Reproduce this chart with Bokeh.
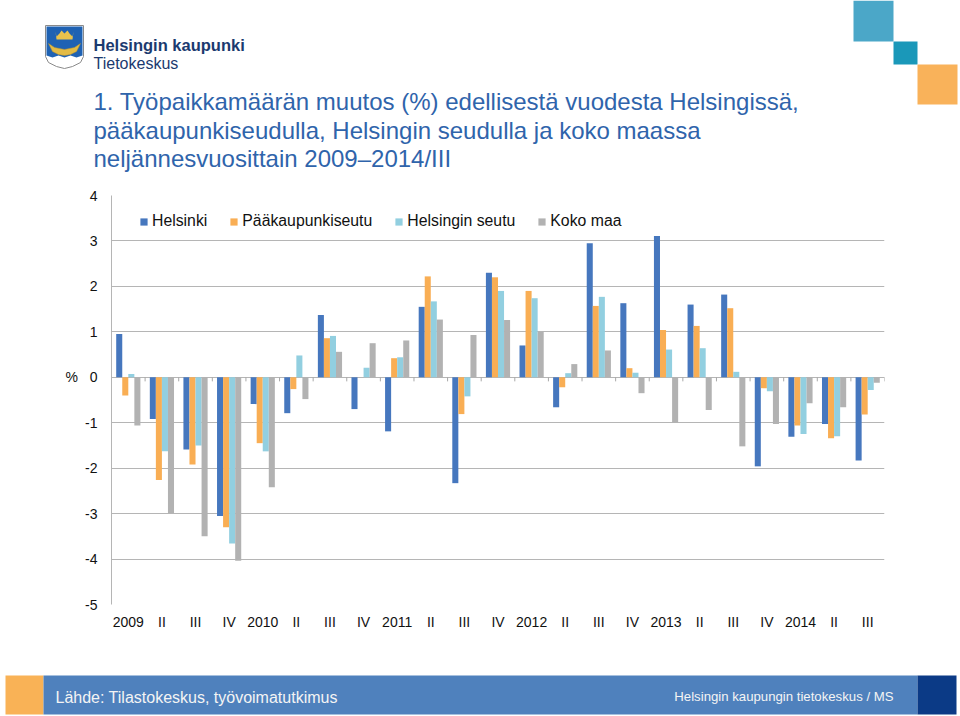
from bokeh.plotting import figure
from bokeh.models import (Range1d, FixedTicker, LinearAxis, Legend, LegendItem,
                          ColumnDataSource, Grid, Plot)
from bokeh.layouts import column
from bokeh.transform import dodge
from bokeh.core.properties import value
from bokeh.embed import file_html
from bokeh.resources import INLINE

# ---------------- data ----------------
quarters = ["2009", "II", "III", "IV", "2010", "II", "III", "IV",
            "2011", "II", "III", "IV", "2012", "II", "III", "IV",
            "2013", "II", "III", "IV", "2014", "II", "III"]
helsinki = [0.95, -0.92, -1.59, -3.05, -0.59, -0.79, 1.37, -0.70,
            -1.19, 1.55, -2.33, 2.30, 0.70, -0.66, 2.95, 1.63,
            3.11, 1.60, 1.82, -1.96, -1.31, -1.03, -1.83]
paakaupunkiseutu = [-0.40, -2.26, -1.92, -3.30, -1.45, -0.26, 0.86, 0.00,
                    0.42, 2.22, -0.81, 2.20, 1.90, -0.22, 1.57, 0.20,
                    1.04, 1.13, 1.52, -0.24, -1.06, -1.34, -0.82]
helsingin_seutu = [0.07, -1.63, -1.50, -3.66, -1.63, 0.48, 0.91, 0.21,
                   0.44, 1.67, -0.42, 1.90, 1.74, 0.09, 1.77, 0.10,
                   0.61, 0.64, 0.12, -0.31, -1.25, -1.30, -0.28]
koko_maa = [-1.06, -2.99, -3.50, -4.04, -2.42, -0.48, 0.56, 0.75,
            0.81, 1.27, 0.93, 1.26, 1.00, 0.29, 0.59, -0.35,
            -1.00, -0.72, -1.52, -1.03, -0.57, -0.66, -0.12]
series_names = ["Helsinki", "Pääkaupunkiseutu", "Helsingin seutu", "Koko maa"]
y_ticks = [-5, -4, -3, -2, -1, 0, 1, 2, 3, 4]

title_lines = ["1. Työpaikkamäärän muutos (%) edellisestä vuodesta Helsingissä,",
               "pääkaupunkiseudulla, Helsingin seudulla ja koko maassa",
               "neljännesvuosittain 2009\u20132014/III"]
source_text = "Lähde: Tilastokeskus, työvoimatutkimus"
credit_text = "Helsingin kaupungin tietokeskus / MS"

# ---------------- style ----------------
FONT = "Liberation Sans"
COLORS = ["#4677be", "#f9ae54", "#92cfe0", "#b2b2b2"]
GRID = "#b5b5b5"
W = 960
H1, H2, H3 = 180, 480, 56
HAS_FRAME_ALIGN = "frame_align" in Plot.properties()


def no_align(f):
    if HAS_FRAME_ALIGN:
        f.frame_align = False
    return f


def blank(h):
    f = figure(width=W, height=h, x_range=Range1d(0, W), y_range=Range1d(h, 0),
               output_backend="svg", toolbar_location=None,
               x_axis_type=None, y_axis_type=None,
               min_border_left=0, min_border_right=0,
               min_border_top=0, min_border_bottom=0,
               outline_line_color=None)
    f.border_fill_color = "white"
    f.background_fill_color = "white"
    return no_align(f)


# ---------------- header ----------------
hd = blank(H1)
# coat of arms (simplified)
hd.patch(x=[45, 83, 83, 80, 72, 64, 56, 48, 45],
         y=[25, 25, 56, 62, 66, 68, 66, 62, 56],
         fill_color="white", line_color="#8a8a8a", line_width=1)
hd.patch(x=[46, 82, 82, 76, 70, 64, 58, 52, 46],
         y=[26, 26, 55, 57, 55, 57, 55, 57, 55],
         fill_color="#1f62b3", line_color=None)
hd.patch(x=[55, 56, 59, 61, 64, 67, 69, 72, 73, 72, 56],
         y=[31, 36, 33, 30, 33, 30, 33, 36, 31, 39, 39],
         fill_color="#e9c24c", line_color=None)
hd.patch(x=[48, 54, 64, 74, 80, 76, 70, 64, 58, 52],
         y=[43, 47, 49, 47, 43, 51, 54, 55, 54, 51],
         fill_color="#e3bb45", line_color="#b8922d", line_width=0.5)
hd.text(x=[93], y=[44], text=["Helsingin kaupunki"], text_font=value(FONT),
        text_font_style="bold", text_font_size="16.5px", text_color="#1b3a6f",
        text_baseline="alphabetic")
hd.text(x=[93], y=[62.5], text=["Tietokeskus"], text_font=value(FONT),
        text_font_size="16px", text_color="#1b3a6f", text_baseline="alphabetic")
hd.text(x=[93, 93, 93], y=[101, 129.5, 158], text=title_lines, text_font=value(FONT),
        text_font_size="24px", text_color="#2f64ab", text_baseline="alphabetic")
# decorative squares top right
hd.quad(left=[853], right=[893], top=[0], bottom=[41], fill_color="#4ba7c8", line_color=None)
hd.quad(left=[893], right=[917], top=[41], bottom=[64], fill_color="#1a98b9", line_color=None)
hd.quad(left=[917], right=[957], top=[64], bottom=[104], fill_color="#f9b25a", line_color=None)

# ---------------- chart ----------------
n = len(quarters)
src = ColumnDataSource(dict(x=list(range(n)), h=helsinki, p=paakaupunkiseutu,
                            s=helsingin_seutu, k=koko_maa))
p = figure(width=W, height=H2, x_range=Range1d(-0.5, n - 0.5),
           y_range=Range1d(min(y_ticks), max(y_ticks)),
           output_backend="svg", toolbar_location=None,
           x_axis_type=None, y_axis_type=None,
           min_border_left=111, min_border_right=76, min_border_top=15, min_border_bottom=56,
           outline_line_color=None)
p.border_fill_color = "white"
no_align(p)

yax = LinearAxis(ticker=FixedTicker(ticks=y_ticks, minor_ticks=[]))
yax.major_label_overrides = {t: ("%\u00a0\u00a0\u00a0" + str(t)) if t == 0 else str(t) for t in y_ticks}
yax.axis_line_color = GRID
yax.major_tick_out = 0
yax.major_tick_in = 0
yax.major_tick_line_color = None
yax.minor_tick_line_color = None
yax.major_label_standoff = 14
yax.major_label_text_font = FONT
yax.major_label_text_font_size = "14px"
yax.major_label_text_color = "#111111"
p.add_layout(yax, "left")

p.add_layout(Grid(dimension=1, ticker=yax.ticker, grid_line_color=GRID, grid_line_width=1))

lab = LinearAxis(ticker=FixedTicker(ticks=list(range(n)), minor_ticks=[]))
lab.major_label_overrides = {i: q for i, q in enumerate(quarters)}
lab.axis_line_color = None
lab.major_tick_line_color = None
lab.minor_tick_line_color = None
lab.major_tick_out = 0
lab.major_tick_in = 0
lab.major_label_standoff = 9
lab.major_label_text_font = FONT
lab.major_label_text_font_size = "14px"
lab.major_label_text_color = "#111111"
p.add_layout(lab, "below")

# small tick marks on the zero line at category boundaries
boundaries = [i - 0.5 for i in range(n + 1)]
p.segment(x0=boundaries, x1=boundaries, y0=[0] * len(boundaries), y1=[-0.09] * len(boundaries),
          line_color="#a8a8a8", line_width=1)

offsets = [-0.27, -0.09, 0.09, 0.27]
renderers = []
for col, off, c in zip(["h", "p", "s", "k"], offsets, COLORS):
    r = p.vbar(x=dodge("x", off, range=p.x_range), top=col, width=0.18, bottom=0,
               source=src, fill_color=c, line_color=None)
    renderers.append(r)

legend = Legend(items=[LegendItem(label=nm, renderers=[r]) for nm, r in zip(series_names, renderers)],
                orientation="horizontal", location=(28, 374),
                padding=0, margin=0, spacing=22, glyph_width=9, glyph_height=9,
                label_standoff=4, label_height=18,
                label_text_font=FONT, label_text_font_size="15.8px", label_text_color="#111111",
                border_line_color=None, background_fill_alpha=0)
p.add_layout(legend)

# ---------------- footer ----------------
ft = blank(H3)
ft.quad(left=[5], right=[43], top=[15], bottom=[54], fill_color="#f9b256", line_color=None)
ft.quad(left=[43], right=[917], top=[15], bottom=[54], fill_color="#4f81bd", line_color=None)
ft.quad(left=[917], right=[956], top=[15], bottom=[54], fill_color="#0b3a86", line_color=None)
ft.text(x=[55], y=[37], text=[source_text], text_font=value(FONT), text_font_size="16px",
        text_color="#f4f4f4", text_baseline="middle")
ft.text(x=[893], y=[35.5], text=[credit_text], text_font=value(FONT), text_font_size="13.2px",
        text_color="#f4f4f4", text_baseline="middle", text_align="right")

layout = column(hd, p, ft, spacing=0)
open("out.html", "w").write(file_html(layout, INLINE))
